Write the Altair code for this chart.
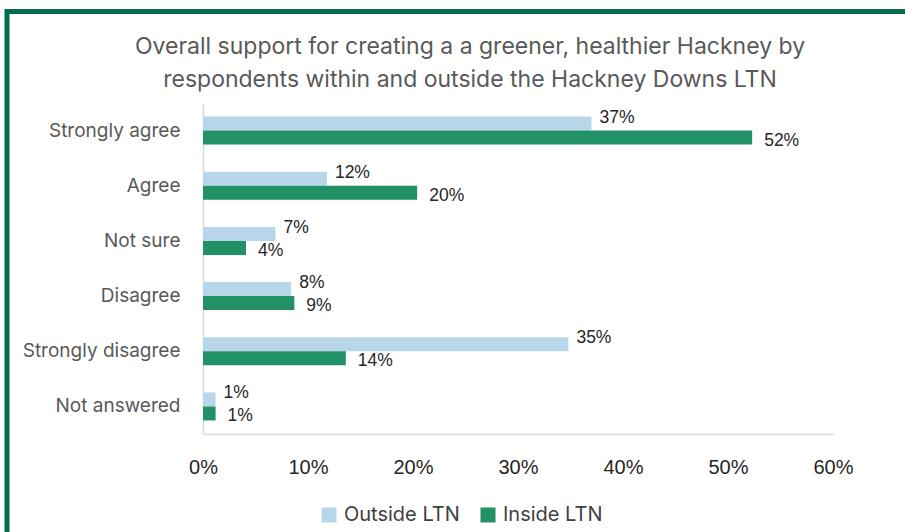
import altair as alt
import pandas as pd

categories = ["Strongly agree", "Agree", "Not sure", "Disagree", "Strongly disagree", "Not answered"]
series = ["Outside LTN", "Inside LTN"]
outside_vals = [37.0, 11.8, 6.9, 8.4, 34.8, 1.2]
inside_vals = [52.3, 20.4, 4.1, 8.7, 13.6, 1.2]
colors = ["#B8D6EA", "#229165"]
title_lines = ["Overall support for creating a a greener, healthier Hackney by",
               "respondents within and outside the Hackney Downs LTN"]

rows = []
for c, o, i in zip(categories, outside_vals, inside_vals):
    rows.append({"cat": c, "series": series[0], "val": o})
    rows.append({"cat": c, "series": series[1], "val": i})
df = pd.DataFrame(rows)
df["label"] = df["val"].round(0).astype(int).astype(str) + "%"

W, H = 630, 331
PL, PT = 203, 103

y_enc = alt.Y("cat:N", sort=categories, title=None,
              scale=alt.Scale(paddingInner=0.49, paddingOuter=0.245),
              axis=alt.Axis(labelFont="Inter", labelFontSize=19, labelColor="#595959",
                            labelPadding=23, ticks=False, domainColor="#D9D9D9", domainWidth=1.5))
x_enc = alt.X("val:Q", title=None,
              scale=alt.Scale(domain=[0, 60], nice=False),
              axis=alt.Axis(values=[0, 10, 20, 30, 40, 50, 60], labelExpr="datum.value + '%'",
                            labelFont="Liberation Sans", labelFontSize=20, labelColor="#262626",
                            labelPadding=23, ticks=False, grid=False, domainColor="#D6DDE0",
                            domainWidth=1.5, labelFlush=False))
yoff = alt.YOffset("series:N", sort=series)

base = alt.Chart(df)

bars = base.mark_bar(size=14).encode(
    x=x_enc, y=y_enc, yOffset=yoff,
    color=alt.Color("series:N", sort=series,
                    scale=alt.Scale(domain=series, range=colors),
                    legend=alt.Legend(title=None, orient="none", direction="horizontal",
                                      legendX=116, legendY=402, symbolType="square",
                                      symbolSize=225, symbolStrokeWidth=0,
                                      labelFont="Inter", labelFontSize=20,
                                      labelColor="#404040", labelOffset=5, columnPadding=18)),
)

lab_out = base.transform_filter(alt.datum.series == series[0]).mark_text(
    align="left", baseline="middle", dx=8, dy=-6, font="Liberation Sans", fontSize=17.5,
    color="#262626").encode(x="val:Q", y=alt.Y("cat:N", sort=categories), yOffset=yoff,
                            text="label:N")
lab_in = base.transform_filter(alt.datum.series == series[1]).mark_text(
    align="left", baseline="middle", dx=12, dy=3, font="Liberation Sans", fontSize=17.5,
    color="#262626").encode(x="val:Q", y=alt.Y("cat:N", sort=categories), yOffset=yoff,
                            text="label:N")

frame = alt.Chart(pd.DataFrame({"a": [0]})).mark_rect(
    fill=None, stroke="#006B4F", strokeWidth=5).encode(
    x=alt.value(7 - PL), x2=alt.value(905 - PL + 20),
    y=alt.value(11.5 - PT), y2=alt.value(532 - PT + 20))

chart = alt.layer(bars, lab_out, lab_in, frame).properties(
    width=W, height=H,
    background="white",
    padding={"left": PL, "top": PT, "right": 905 - PL - W, "bottom": 532 - PT - H},
    autosize=alt.AutoSizeParams(type="none"),
    title=alt.TitleParams(title_lines, font="Inter", fontSize=23, fontWeight="normal",
                          color="#595959", dx=-48, offset=-83, lineHeight=33, frame="group"),
).configure_view(strokeWidth=0)

chart.save("out.html", embed_options={"renderer": "svg", "actions": False})
